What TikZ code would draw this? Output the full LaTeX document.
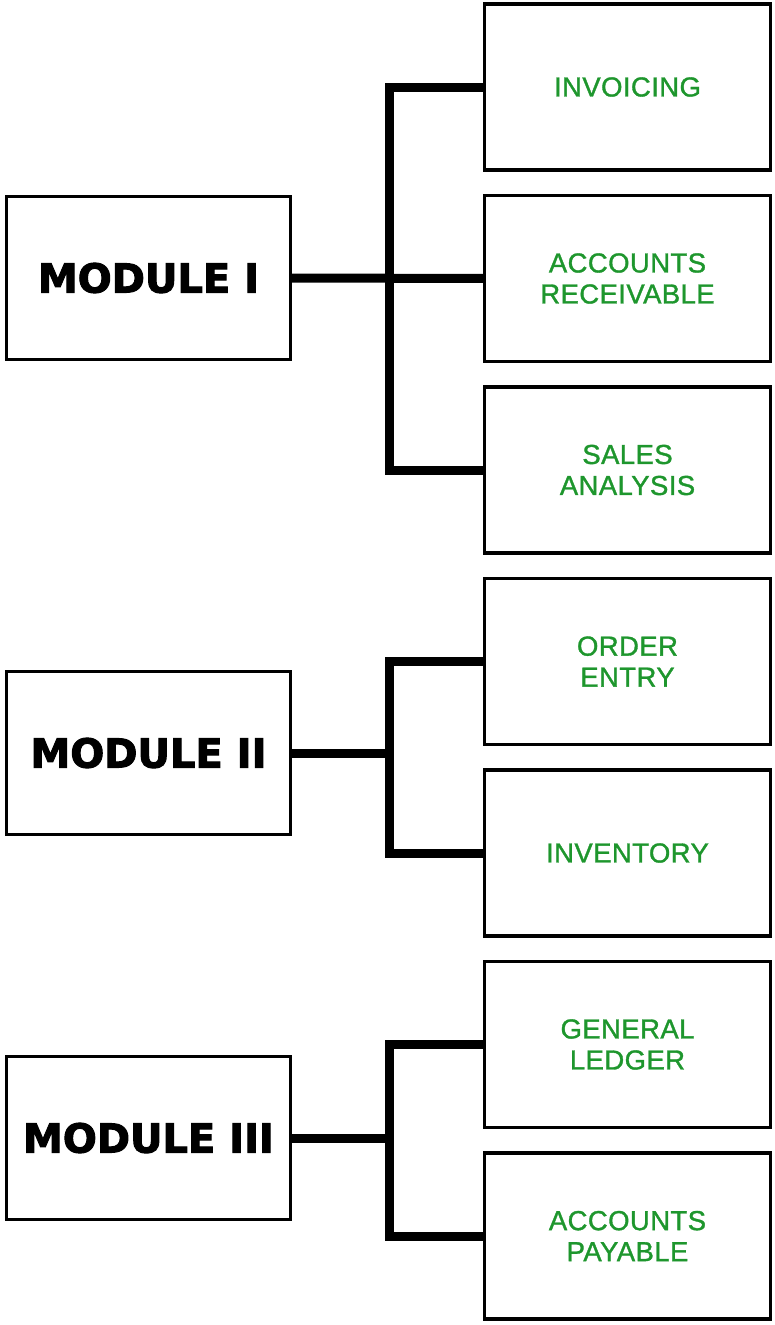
\documentclass[tikz,border=0pt]{standalone}
\usepackage{fontspec}
\usepackage{tikz}
\usetikzlibrary{positioning, calc}
\newfontfamily\modfont{DejaVu Sans}[BoldFont={DejaVu Sans Bold}, BoldFeatures={FakeBold=2.5}]
\newfontfamily\subfont{Liberation Sans}[LetterSpace=1.5, FakeBold=1.2]
\definecolor{subgreen}{RGB}{30,150,45}

\begin{document}
\begin{tikzpicture}[
		x=1pt, y=1pt,
		node distance=25.5pt and 191pt,
		module/.style={draw, line width=3.5pt, outer sep=0pt,
			minimum width=284pt, minimum height=163pt, align=center,
			font=\modfont\bfseries\fontsize{40}{46}\selectfont},
		sub/.style={draw, line width=3.5pt, outer sep=0pt,
			minimum width=286pt, minimum height=166pt, align=center,
			text=subgreen, font=\subfont\fontsize{27.5}{31}\selectfont},
		bus/.style={line width=9pt, line join=miter},
	]
		\useasboundingbox (0,0) rectangle (774,-1325);

		% Sub-system boxes (right column)
		\node[sub] (inv) at (627.5,-87) {INVOICING};
		\node[sub, below=of inv] (ar) {ACCOUNTS\\RECEIVABLE};
		\node[sub, below=of ar] (sa) {SALES\\ANALYSIS};
		\node[sub, below=of sa] (oe) {ORDER\\ENTRY};
		\node[sub, below=of oe] (stock) {INVENTORY};
		\node[sub, below=of stock] (gl) {GENERAL\\LEDGER};
		\node[sub, below=of gl] (ap) {ACCOUNTS\\PAYABLE};

		% Modules (left column)
		\node[module] (mod1) at (148.5,-278) {MODULE I};
		\node[module] (mod2) at (148.5,-753) {MODULE II};
		\node[module] (mod3) at (148.5,-1138) {MODULE III};

		% Bus lines
		\coordinate (b1) at ($(mod1.east)!0.51!(ar.west)$);
		\coordinate (b2) at (b1 |- mod2.east);
		\coordinate (b3) at (b1 |- mod3.east);

		\draw[bus] (mod1.east) -- (ar.west);
		\draw[bus] (inv.west) -| (b1) |- (sa.west);

		\draw[bus] (mod2.east) -- (b2);
		\draw[bus] (oe.west) -| (b2) |- (stock.west);

		\draw[bus] (mod3.east) -- (b3);
		\draw[bus] (gl.west) -| (b3) |- (ap.west);
	\end{tikzpicture}
\end{document}
